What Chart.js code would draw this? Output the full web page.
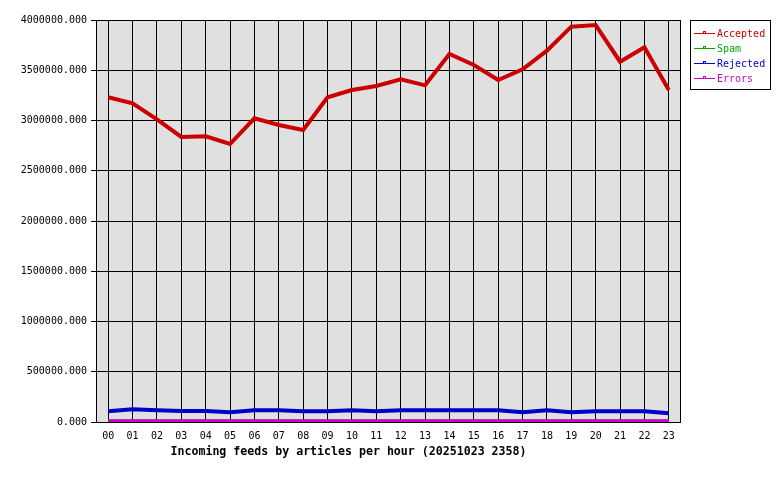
<!DOCTYPE html>
<html>
<head>
<meta charset="utf-8">
<script src="https://cdn.jsdelivr.net/npm/chart.js@4/dist/chart.umd.min.js"></script>
<style>
  html, body { margin: 0; padding: 0; background: #fff; }
  #wrap { width: 780px; height: 480px; }
</style>
</head>
<body>
<div id="wrap"><canvas id="feedChart"></canvas></div>
<script>
const hours = ['00', '01', '02', '03', '04', '05', '06', '07', '08', '09', '10', '11',
  '12', '13', '14', '15', '16', '17', '18', '19', '20', '21', '22', '23'];

const accepted = [3231000, 3171000, 3012000, 2836000, 2843000, 2766000, 3022000, 2955000,
  2905000, 3231000, 3303000, 3343000, 3410000, 3350000, 3662000, 3552000, 3403000, 3510000,
  3695000, 3934000, 3950000, 3585000, 3728000, 3303000];
const spam = [10000, 10000, 10000, 10000, 10000, 10000, 10000, 10000, 10000, 10000, 10000, 10000,
  10000, 10000, 10000, 10000, 10000, 10000, 10000, 10000, 10000, 10000, 10000, 10000];
const rejected = [106000, 126000, 116000, 109000, 109000, 96000, 116000, 116000, 106000, 106000,
  116000, 106000, 116000, 116000, 116000, 116000, 116000, 96000, 116000, 96000, 106000, 106000,
  106000, 86000];
const errors = [13000, 13000, 13000, 13000, 13000, 13000, 13000, 13000, 13000, 13000, 13000, 13000,
  13000, 13000, 13000, 13000, 13000, 13000, 13000, 13000, 13000, 13000, 13000, 13000];

const chartTitle = 'Incoming feeds by articles per hour (20251023 2358)';
const mono = "'DejaVu Sans Mono', monospace";

// gray plot background + frame, own legend box and the bottom caption
const framePlugin = {
  id: 'frame',
  beforeDraw(chart) {
    const { ctx, chartArea: a } = chart;
    ctx.save();
    ctx.fillStyle = '#e0e0e0';
    ctx.fillRect(a.left, a.top, a.right - a.left, a.bottom - a.top);
    ctx.restore();
  },
  afterDraw(chart) {
    const { ctx, chartArea: a } = chart;
    ctx.save();
    ctx.strokeStyle = '#000';
    ctx.lineWidth = 1;
    ctx.strokeRect(Math.round(a.left) + 0.5, Math.round(a.top) + 0.5,
      Math.round(a.right - a.left) - 1, Math.round(a.bottom - a.top));

    // legend
    ctx.fillStyle = '#fff';
    ctx.fillRect(690.5, 20.5, 80, 69);
    ctx.strokeRect(690.5, 20.5, 80, 69);
    ctx.font = '10px ' + mono;
    ctx.textBaseline = 'middle';
    ctx.textAlign = 'left';
    chart.data.datasets.forEach((ds, i) => {
      const y = 33 + i * 15;
      ctx.fillStyle = ds.borderColor;
      ctx.fillRect(694, y, 21, 1);
      ctx.strokeStyle = ds.borderColor;
      ctx.strokeRect(703.5, y - 1.5, 2, 2);
      ctx.fillText(ds.label, 717, y + 1);
    });

    ctx.fillStyle = '#000';
    ctx.font = 'bold 11.6px ' + mono;
    ctx.textAlign = 'center';
    ctx.fillText(chartTitle, 348.5, 452);
    ctx.restore();
  }
};

const data = {
  labels: hours,
  datasets: [
    { label: 'Accepted', data: accepted, borderColor: '#cc0000', borderWidth: 4, order: 3 },
    { label: 'Spam', data: spam, borderColor: '#00aa00', borderWidth: 3, order: 2 },
    { label: 'Rejected', data: rejected, borderColor: '#0000cc', borderWidth: 4, order: 1 },
    { label: 'Errors', data: errors, borderColor: '#cc00cc', borderWidth: 3, order: 0 },
  ],
};

const config = {
  type: 'line',
  data: data,
  options: {
    responsive: true,
    maintainAspectRatio: false,
    animation: false,
    layout: { padding: { top: 20, right: 99, left: 0, bottom: 0 } },
    elements: {
      point: { radius: 0 },
      line: { tension: 0, borderCapStyle: 'butt', borderJoinStyle: 'miter' },
    },
    plugins: {
      legend: { display: false },
      tooltip: { enabled: false },
    },
    scales: {
      x: {
        offset: true,
        grid: { offset: false, color: '#000', drawTicks: false },
        border: { display: false },
        ticks: { color: '#000', font: { family: mono, size: 10 }, padding: 8, maxRotation: 0, autoSkip: false },
        afterFit(scale) { scale.height = 58; },
      },
      y: {
        min: 0,
        max: 4000000,
        grid: { color: '#000', tickLength: 5 },
        border: { color: '#000' },
        ticks: {
          stepSize: 500000,
          color: '#000',
          padding: 4,
          font: { family: mono, size: 10 },
          callback: (v) => v.toFixed(3),
        },
        afterFit(scale) { scale.width = 96; },
      },
    },
  },
  plugins: [framePlugin],
};

const feedChart = new Chart(document.getElementById('feedChart'), config);
</script>
</body>
</html>
